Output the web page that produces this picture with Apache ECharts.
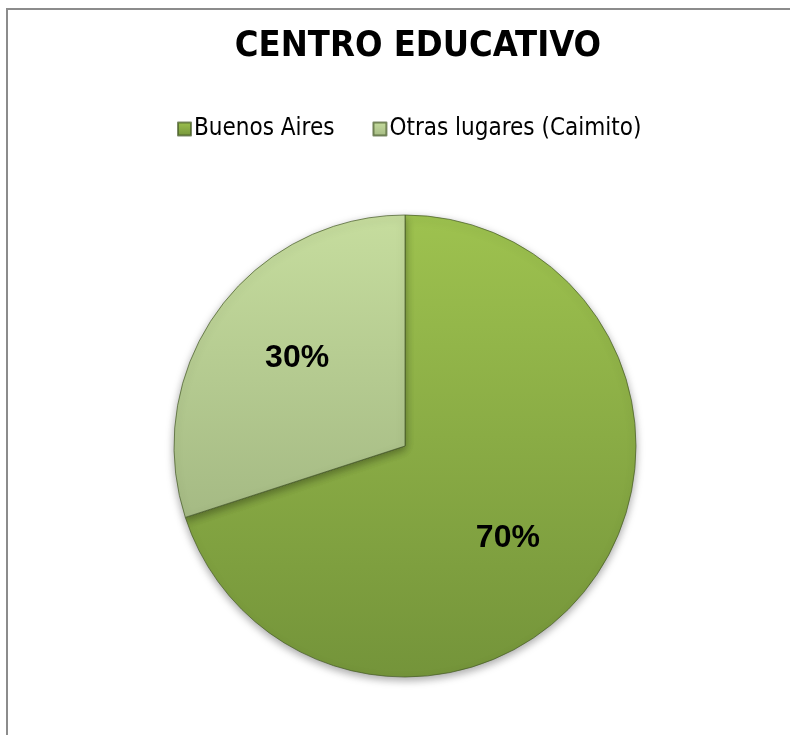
<!DOCTYPE html>
<html>
<head>
<meta charset="utf-8">
<script src="https://cdn.jsdelivr.net/npm/echarts@6/dist/echarts.min.js"></script>
<style>
html,body{margin:0;padding:0;background:#fff;}
#frame{position:absolute;left:6px;top:8px;width:800px;height:740px;border:2px solid #8c8c8c;box-sizing:border-box;}
#chart{position:absolute;left:0;top:0;width:790px;height:735px;}
</style>
</head>
<body>
<div id="frame"></div>
<div id="chart"></div>
<script>
const titleText = 'CENTRO EDUCATIVO';
const categories = ['Buenos Aires', 'Otras lugares (Caimito)'];
const values = [70, 30];

const topColors = ['#9ec24f', '#c6dd9e'];
const bottomColors = ['#74943a', '#a5ba84'];
const labelOffsets = [[7, 23], [-12, -18]];

function grad(i) {
  return new echarts.graphic.LinearGradient(0, 0, 0, 1, [
    {offset: 0, color: topColors[i]},
    {offset: 1, color: bottomColors[i]}
  ]);
}

const chart = echarts.init(document.getElementById('chart'), null, {renderer: 'canvas'});
chart.setOption({
  backgroundColor: 'transparent',
  animation: false,
  title: {
    text: titleText,
    left: 413,
    textAlign: 'center',
    top: 24,
    textStyle: {
      fontFamily: 'DejaVu Sans Condensed, sans-serif',
      fontWeight: 'bold',
      fontSize: 36,
      color: '#000'
    }
  },
  legend: {
    data: categories,
    left: 172,
    top: 112,
    itemGap: 38,
    itemWidth: 13,
    itemHeight: 13,
    icon: 'rect',
    textStyle: {
      fontFamily: 'DejaVu Sans Condensed, sans-serif',
      fontSize: 24,
      color: '#000',
      padding: [0, 0, 0, -2]
    }
  },
  series: [{
    type: 'pie',
    center: [405, 446],
    radius: 231,
    startAngle: 90,
    clockwise: true,
    label: {
      show: true,
      position: 'inside',
      formatter: '{c}%',
      fontFamily: 'Liberation Sans, Arial, sans-serif',
      fontWeight: 'bold',
      fontSize: 32,
      color: '#000'
    },
    labelLine: {show: false},
    emphasis: {disabled: true},
    itemStyle: {
      borderColor: 'rgba(70,90,40,0.7)',
      borderWidth: 1,
      shadowColor: 'rgba(0,0,0,0.35)',
      shadowBlur: 8,
      shadowOffsetY: 3
    },
    data: categories.map((c, i) => ({
      name: c,
      value: values[i],
      itemStyle: {color: grad(i)},
      label: {offset: labelOffsets[i]}
    }))
  }]
});
</script>
</body>
</html>
